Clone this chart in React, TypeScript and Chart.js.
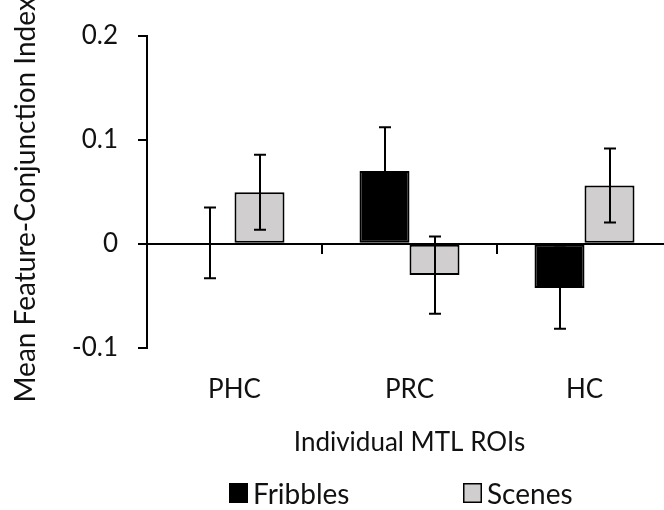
import { useEffect, useRef } from "react";
import { Chart, registerables } from "chart.js";

Chart.register(...registerables);

const categories = ["PHC", "PRC", "HC"];
const seriesNames = ["Fribbles", "Scenes"];
const fribbles = [0.001, 0.070, -0.0425];
const fribblesErr = [0.034, 0.042, 0.039];
const scenes = [0.0495, -0.030, 0.056];
const scenesErr = [0.036, 0.037, 0.0355];
const yTickValues = [-0.1, 0, 0.1, 0.2];
const yTitle = "Mean Feature-Conjunction Index";
const xTitle = "Individual MTL ROIs";

const FONT = "Lato, 'Open Sans', sans-serif";
const FS = 26;
const TEXT = "#111111";
const seriesFill = ["#000000", "#d0cece"];
const errors = [fribblesErr, scenesErr];

const errorBarPlugin = {
  id: "errorBars",
  afterDatasetsDraw(chart: any) {
    const ctx = chart.ctx;
    const yScale = chart.scales.y;
    ctx.save();
    ctx.strokeStyle = "#000";
    ctx.lineWidth = 2;
    chart.data.datasets.forEach((ds: any, di: number) => {
      const meta = chart.getDatasetMeta(di);
      meta.data.forEach((bar: any, i: number) => {
        const v = ds.data[i];
        const e = errors[di][i];
        const x = Math.round(bar.x);
        const yTop = yScale.getPixelForValue(v + e);
        const yBot = yScale.getPixelForValue(v - e);
        const cap = 6;
        ctx.beginPath();
        ctx.moveTo(x, yTop);
        ctx.lineTo(x, yBot);
        ctx.moveTo(x - cap, yTop);
        ctx.lineTo(x + cap, yTop);
        ctx.moveTo(x - cap, yBot);
        ctx.lineTo(x + cap, yBot);
        ctx.stroke();
      });
    });
    ctx.restore();
  },
};

const textPlugin = {
  id: "extraText",
  afterDraw(chart: any) {
    const ctx = chart.ctx;
    const area = chart.chartArea;
    ctx.save();
    // y axis title
    ctx.font = `28px ${FONT}`;
    ctx.fillStyle = TEXT;
    ctx.textAlign = "center";
    ctx.textBaseline = "middle";
    ctx.translate(26, (area.top + area.bottom) / 2 + 8);
    ctx.rotate(-Math.PI / 2);
    ctx.fillText(yTitle, 0, 0);
    ctx.setTransform(1, 0, 0, 1, 0, 0);
    // legend
    ctx.font = `28px ${FONT}`;
    const top = area.bottom + 135;
    ctx.textAlign = "left";
    ctx.textBaseline = "alphabetic";
    chart.data.datasets.forEach((ds: any, i: number) => {
      const x = area.left + 82 + i * 234;
      ctx.fillStyle = ds.backgroundColor;
      ctx.fillRect(x, top, 19, 20);
      ctx.strokeStyle = "#000";
      ctx.lineWidth = 1.5;
      ctx.strokeRect(x + 0.75, top + 0.75, 17.5, 18.5);
      ctx.fillStyle = TEXT;
      ctx.fillText(ds.label, x + 24, top + 21);
    });
    ctx.restore();
  },
};

export default function App() {
  const ref = useRef<HTMLCanvasElement | null>(null);

  useEffect(() => {
    if (!ref.current) return;
    const chart = new Chart(ref.current, {
      type: "bar",
      data: {
        labels: categories,
        datasets: [
          {
            label: seriesNames[0],
            data: fribbles,
            backgroundColor: seriesFill[0],
            borderColor: "#000000",
            borderWidth: 2,
            borderSkipped: false,
          },
          {
            label: seriesNames[1],
            data: scenes,
            backgroundColor: seriesFill[1],
            borderColor: "#000000",
            borderWidth: 2,
            borderSkipped: false,
          },
        ],
      },
      options: {
        responsive: false,
        animation: false,
        devicePixelRatio: 1,
        layout: { padding: { top: 34, left: 8, right: 8, bottom: 52 } },
        datasets: {
          bar: { categoryPercentage: 100 / 175, barPercentage: 1 },
        },
        plugins: {
          legend: { display: false },
          tooltip: { enabled: false },
        },
        scales: {
          x: {
            type: "category",
            offset: true,
            position: "bottom",
            grid: { display: false, drawTicks: false, offset: true },
            border: { display: false },
            ticks: {
              color: TEXT,
              font: { family: FONT, size: FS },
              padding: 26,
            },
            title: {
              display: true,
              text: xTitle,
              color: TEXT,
              font: { family: FONT, size: FS },
              padding: 0,
            },
            afterFit: (scale: any) => {
              scale.height = 110;
            },
          },
          x2: {
            type: "category",
            offset: true,
            position: { y: 0 },
            z: 1,
            grid: {
              offset: true,
              drawOnChartArea: false,
              drawTicks: true,
              tickLength: 9,
              tickWidth: 2,
              tickColor: "#000",
              color: "#000",
              lineWidth: 2,
            },
            border: { display: true, color: "#000", width: 2 },
            ticks: { display: false },
          },
          y: {
            type: "linear",
            min: -0.1,
            max: 0.2,
            afterBuildTicks: (scale: any) => {
              scale.ticks = yTickValues.map((v) => ({ value: v }));
            },
            grid: {
              drawOnChartArea: false,
              drawTicks: true,
              tickLength: 9,
              tickWidth: 2,
              tickColor: "#000",
              color: "#000",
              lineWidth: 2,
            },
            border: { display: true, color: "#000", width: 2 },
            ticks: {
              color: TEXT,
              font: { family: FONT, size: FS },
              padding: 20,
              callback: (v: any) => String(Math.round(Number(v) * 10) / 10),
            },
            title: { display: false },
            afterFit: (scale: any) => {
              scale.width = 139;
            },
          },
        },
      },
      plugins: [errorBarPlugin, textPlugin],
    } as any);
    return () => chart.destroy();
  }, []);

  return (
    <div
      style={{
        position: "fixed",
        left: 0,
        top: 0,
        width: 664,
        height: 510,
        overflow: "hidden",
        background: "#ffffff",
      }}
    >
      <canvas ref={ref} width={680} height={510} style={{ display: "block" }} />
    </div>
  );
}
